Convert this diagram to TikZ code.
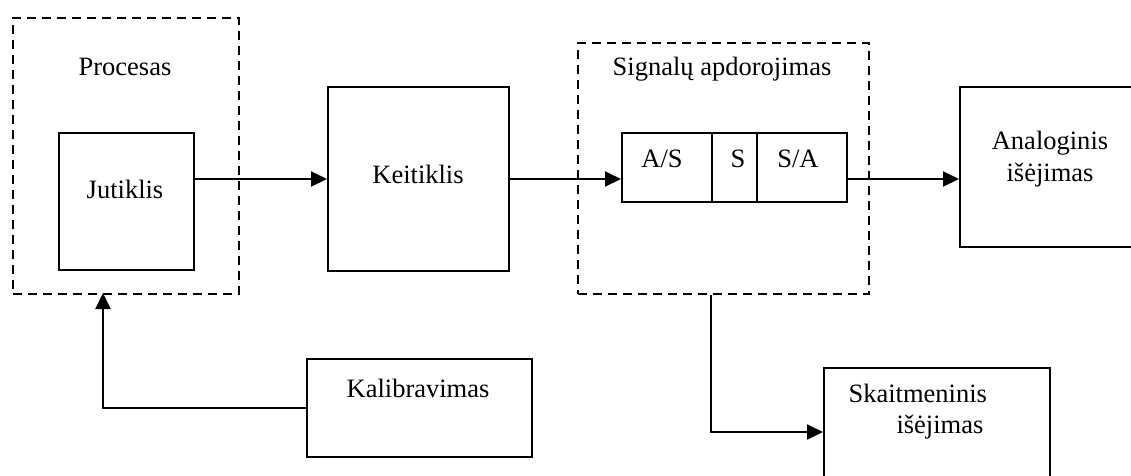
\documentclass[tikz,border=0pt]{standalone}
\usepackage{fontspec}
\setmainfont{Liberation Serif}
\usetikzlibrary{arrows.meta, positioning}

\begin{document}
\begin{tikzpicture}[x=1pt, y=-1pt, font=\fontsize{26.5}{32}\selectfont,
    box/.style={draw, line width=2pt, rectangle, anchor=north west, inner sep=0pt},
    grp/.style={draw, line width=2pt, dash pattern=on 9pt off 6pt, rectangle, anchor=north west, inner sep=0pt},
    arr/.style={line width=2pt, -{Triangle[length=16pt, width=15pt]}}]
    \useasboundingbox (0,0) rectangle (1131,475);

    % Procesas
    \node[grp, minimum width=226pt, minimum height=276pt] (proc) at (12,17) {};
    \node[anchor=base] (proct) at (125,75) {Procesas};
    \node[box, minimum width=135pt, minimum height=137pt] (jut) at (58,132) {};
    \node[anchor=base] (jutt) at (125,198) {Jutiklis};

    % Keitiklis
    \node[box, minimum width=181pt, minimum height=184pt] (kei) at (327,86) {};
    \node[anchor=base] (keit) at (418,183) {Keitiklis};

    % Signalu apdorojimas
    \node[grp, minimum width=291pt, minimum height=251pt] (sig) at (577,42) {};
    \node[anchor=base] (sigt) at (722,75) {Signalų apdorojimas};
    \node[box, minimum width=90pt, minimum height=69pt] (as) at (621,132) {};
    \node[box, minimum width=45pt, minimum height=69pt] (s) at (711,132) {};
    \node[box, minimum width=90pt, minimum height=69pt] (sa) at (756,132) {};
    \node[anchor=base] (ast) at (662,167) {A/S};
    \node[anchor=base] (st) at (738,167) {S};
    \node[anchor=base] (sat) at (798,167) {S/A};

    % isejimai
    \node[box, minimum width=183pt, minimum height=160pt] (ana) at (959,86) {};
    \node[anchor=north, align=center, inner sep=0pt] (anat) at (1050,131) {Analoginis\\išėjimas};
    \node[box, minimum width=226pt, minimum height=128pt] (skait) at (823,367) {};
    \node[anchor=base west] (skt1) at (845,402) {Skaitmeninis};
    \node[anchor=base west] (skt2) at (893,433) {išėjimas};

    % Kalibravimas
    \node[box, minimum width=225pt, minimum height=98pt] (kal) at (306,358) {};
    \node[anchor=base] (kalt) at (418,397) {Kalibravimas};
    \coordinate (kin) at (103,293);

    % rodykles
    \draw[arr] (jut.east |- kei.west) -- (kei.west);
    \draw[arr] (kei.east) -- (kei.east -| as.west);
    \draw[arr] (sa.east |- kei.east) -- (ana.west |- kei.east);
    \draw[arr] (sig.south -| s.west) |- (skait.west);
    \draw[arr] (kal.west) -| (kin);
\end{tikzpicture}
\end{document}
